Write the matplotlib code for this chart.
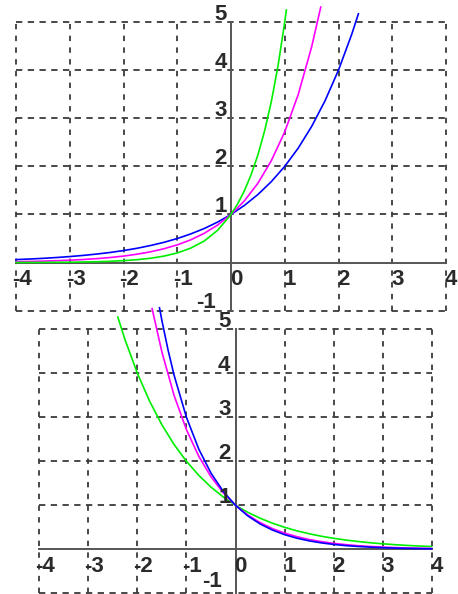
import matplotlib
matplotlib.use("Agg")
import matplotlib.pyplot as plt
from matplotlib.transforms import offset_copy
import logging
logging.getLogger("matplotlib.font_manager").setLevel(logging.ERROR)

# ---- data ----
grid_x = [-4, -3, -2, -1, 0, 1, 2, 3, 4]
grid_y = [-1, 0, 1, 2, 3, 4, 5]
x_tick_labels = ["-4", "-3", "-2", "-1", "0", "1", "2", "3", "4"]
y_tick_labels = ["-1", "1", "2", "3", "4", "5"]
y_tick_values = [-1, 1, 2, 3, 4, 5]

# top panel: growing curves
top_green_x = [-4, -3.75, -3.5, -3.25, -3, -2.75, -2.5, -2.25, -2, -1.75, -1.5, -1.25, -1,
               -0.75, -0.5, -0.25, 0, 0.125, 0.25, 0.375, 0.5, 0.625, 0.75, 0.875, 1.0, 1.03]
top_green_y = [0.0016, 0.0024, 0.0036, 0.0054, 0.008, 0.012, 0.018, 0.027, 0.04, 0.06, 0.089, 0.134, 0.2,
               0.30, 0.447, 0.669, 1.0, 1.223, 1.495, 1.829, 2.236, 2.735, 3.344, 4.089, 5.0, 5.25]

top_magenta_x = [-4, -3.75, -3.5, -3.25, -3, -2.75, -2.5, -2.25, -2, -1.75, -1.5, -1.25, -1,
                 -0.75, -0.5, -0.25, 0, 0.25, 0.5, 0.75, 1.0, 1.25, 1.5, 1.67]
top_magenta_y = [0.018, 0.024, 0.030, 0.039, 0.050, 0.064, 0.082, 0.105, 0.135, 0.174, 0.223, 0.287, 0.368,
                 0.472, 0.607, 0.779, 1.0, 1.284, 1.649, 2.117, 2.718, 3.490, 4.482, 5.31]

top_blue_x = [-4, -3.75, -3.5, -3.25, -3, -2.75, -2.5, -2.25, -2, -1.75, -1.5, -1.25, -1,
              -0.75, -0.5, -0.25, 0, 0.25, 0.5, 0.75, 1.0, 1.25, 1.5, 1.75, 2.0, 2.25, 2.37]
top_blue_y = [0.0625, 0.074, 0.088, 0.105, 0.125, 0.149, 0.177, 0.210, 0.25, 0.297, 0.354, 0.420, 0.5,
              0.595, 0.707, 0.841, 1.0, 1.189, 1.414, 1.682, 2.0, 2.378, 2.828, 3.364, 4.0, 4.757, 5.17]

# bottom panel: decaying curves
bot_green_x = [-2.4, -2.25, -2, -1.75, -1.5, -1.25, -1, -0.75, -0.5, -0.25, 0, 0.25, 0.5, 0.75, 1.0,
               1.25, 1.5, 1.75, 2.0, 2.25, 2.5, 2.75, 3.0, 3.25, 3.5, 3.75, 4.0]
bot_green_y = [5.28, 4.757, 4.0, 3.364, 2.828, 2.378, 2.0, 1.682, 1.414, 1.189, 1.0, 0.841, 0.707, 0.595, 0.5,
               0.420, 0.354, 0.297, 0.25, 0.210, 0.177, 0.149, 0.125, 0.105, 0.088, 0.074, 0.0625]

bot_magenta_x = [-1.7, -1.5, -1.25, -1, -0.75, -0.5, -0.25, 0, 0.25, 0.5, 0.75, 1.0, 1.25, 1.5, 1.75,
                 2.0, 2.25, 2.5, 2.75, 3.0, 3.25, 3.5, 3.75, 4.0]
bot_magenta_y = [5.47, 4.482, 3.490, 2.718, 2.117, 1.649, 1.284, 1.0, 0.779, 0.607, 0.472, 0.368, 0.287, 0.223, 0.174,
                 0.135, 0.105, 0.082, 0.064, 0.050, 0.039, 0.030, 0.024, 0.018]

bot_blue_x = [-1.55, -1.5, -1.375, -1.25, -1, -0.75, -0.5, -0.25, 0, 0.25, 0.5, 0.75, 1.0, 1.25, 1.5, 1.75,
              2.0, 2.25, 2.5, 2.75, 3.0, 3.25, 3.5, 3.75, 4.0]
bot_blue_y = [5.49, 5.196, 4.529, 3.948, 3.0, 2.280, 1.732, 1.316, 1.0, 0.760, 0.577, 0.439, 0.333, 0.253, 0.192, 0.146,
              0.111, 0.084, 0.064, 0.049, 0.037, 0.028, 0.021, 0.016, 0.012]

GREEN = "#00ee00"
MAGENTA = "#ff00ff"
BLUE = "#0000ff"
GRID_C = "#3a3a3a"
AXIS_C = "#555555"
TEXT_C = "#2a2a2a"

W, H = 458, 594
fig = plt.figure(figsize=(W / 100, H / 100), dpi=100)

FONT = dict(family=["Liberation Sans Narrow", "Liberation Sans"], fontweight="bold",
            fontsize=16, color=TEXT_C)


def panel(rect, curves, xlab_dy, ylab_dx, neg1_dx, neg1_dy):
    ax = fig.add_axes(rect)
    ax.set_xlim(-4, 4)
    ax.set_ylim(-1, 5)
    ax.axis("off")
    x0, x1 = grid_x[0], grid_x[-1]
    y0, y1 = grid_y[0], grid_y[-1]
    for gy in grid_y:
        if gy == 0:
            continue
        ax.plot([x0, x1], [gy, gy], color=GRID_C, lw=1.3, dashes=(3.5, 3), clip_on=False, zorder=1)
    for gx in grid_x:
        if gx == 0:
            continue
        ax.plot([gx, gx], [y0, y1], color=GRID_C, lw=1.3, dashes=(3, 3.5), clip_on=False, zorder=1)
    ax.plot([x0, x1], [0, 0], color=AXIS_C, lw=1.4, clip_on=False, zorder=2)
    ax.plot([0, 0], [y0, y1], color=AXIS_C, lw=1.4, clip_on=False, zorder=2)
    for xs, ys, c in curves:
        ax.plot(xs, ys, color=c, lw=1.2, clip_on=False, zorder=3)
    # x tick labels
    for v, s in zip(grid_x, x_tick_labels):
        dx = -4 if v < 0 else -1
        tr = offset_copy(ax.transData, fig=fig, x=dx, y=xlab_dy, units="dots")
        ax.text(v, 0, s, transform=tr, ha="left", va="top", zorder=4, **FONT)
    # y tick labels
    for v, s in zip(y_tick_values, y_tick_labels):
        if v < 0:
            tr = offset_copy(ax.transData, fig=fig, x=neg1_dx, y=neg1_dy, units="dots")
        else:
            tr = offset_copy(ax.transData, fig=fig, x=ylab_dx, y=2, units="dots")
        ax.text(0, v, s, transform=tr, ha="right", va="baseline", zorder=4, **FONT)
    return ax


# top panel: x -4..4 -> px 16..446 ; y -1..5 -> px 310.7..22
top_rect = [16 / W, (H - 310.7) / H, 430 / W, (310.7 - 22) / H]
panel(top_rect,
      [(top_blue_x, top_blue_y, BLUE),
       (top_magenta_x, top_magenta_y, MAGENTA),
       (top_green_x, top_green_y, GREEN)],
      xlab_dy=-6, ylab_dx=-4, neg1_dx=-15, neg1_dy=3)

# bottom panel: x -4..4 -> px 39.3..431.7 ; y -1..5 -> px 593.3..329.3
bot_rect = [39.3 / W, (H - 593.3) / H, 392.4 / W, (593.3 - 329.3) / H]
panel(bot_rect,
      [(bot_green_x, bot_green_y, GREEN),
       (bot_magenta_x, bot_magenta_y, MAGENTA),
       (bot_blue_x, bot_blue_y, BLUE)],
      xlab_dy=-7, ylab_dx=-5, neg1_dx=-14, neg1_dy=6)

fig.savefig("out.png", dpi=100)
